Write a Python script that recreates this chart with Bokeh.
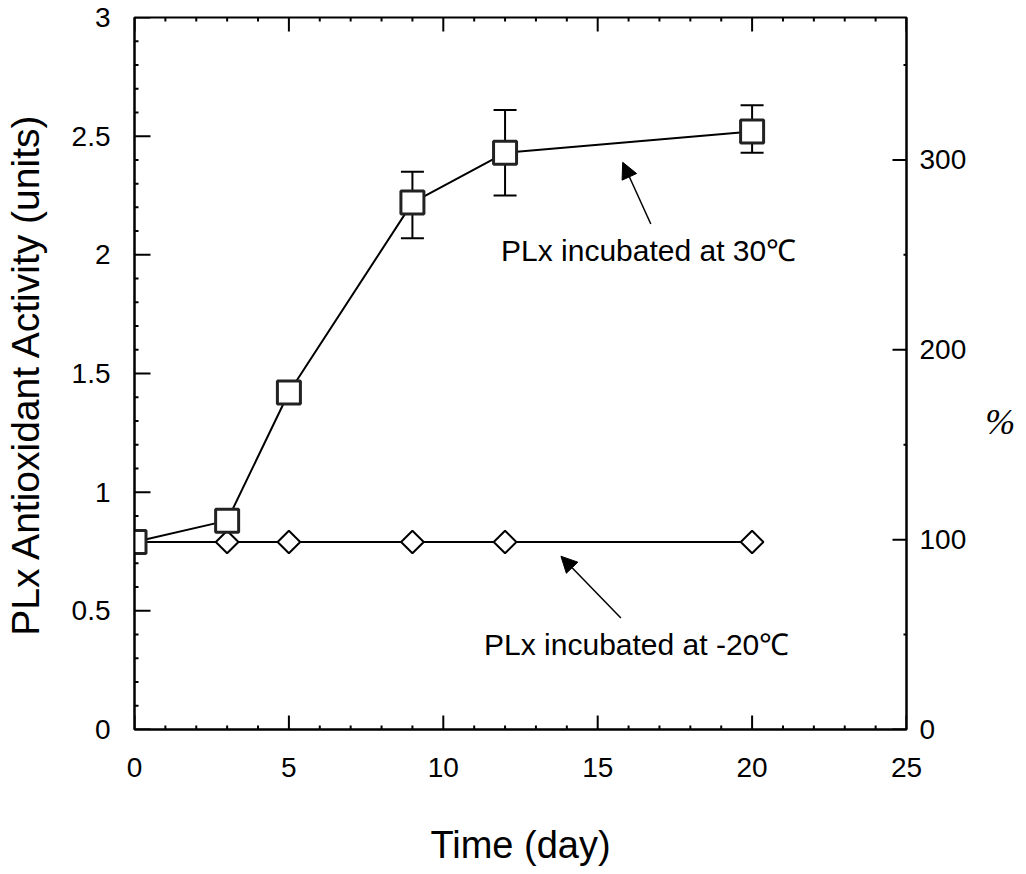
import numpy as np
from bokeh.plotting import figure
from bokeh.models import (LinearAxis, Range1d, FixedTicker, ColumnDataSource, Whisker,
                          TeeHead, Arrow, NormalHead, Label)
from bokeh.embed import file_html
from bokeh.resources import INLINE

# ---------------- data ----------------
days = [0, 3, 5, 9, 12, 20]
activity_30c = [0.79, 0.88, 1.42, 2.22, 2.43, 2.52]
activity_m20c = [0.79, 0.79, 0.79, 0.79, 0.79, 0.79]
err_days = [9, 12, 20]
err_low = [2.07, 2.25, 2.43]
err_high = [2.35, 2.61, 2.63]

x_ticks = [0, 5, 10, 15, 20, 25]
x_minor = [1, 2, 3, 4, 6, 7, 8, 9, 11, 12, 13, 14, 16, 17, 18, 19, 21, 22, 23, 24]
y_ticks = [0, 0.5, 1, 1.5, 2, 2.5, 3]
y_tick_labels = ["0", "0.5", "1", "1.5", "2", "2.5", "3"]
y_minor = [0.1, 0.2, 0.3, 0.4, 0.6, 0.7, 0.8, 0.9, 1.1, 1.2, 1.3, 1.4, 1.6, 1.7, 1.8, 1.9,
           2.1, 2.2, 2.3, 2.4, 2.6, 2.7, 2.8, 2.9]
pct_ticks = [0, 100, 200, 300]
pct_minor = [50, 150, 250, 350]

label_30 = "PLx incubated at 30\u2103"
label_m20 = "PLx incubated at -20\u2103"
label_30_pos = (11.87, 2.02)
label_m20_pos = (11.32, 0.36)
arrow_30 = (16.72, 2.13, 15.81, 2.39)
arrow_m20 = (15.75, 0.47, 13.81, 0.73)

X0, X1, Y0, Y1 = 0, 25, 0, 3
FONT = "Liberation Sans"

p = figure(width=1022, height=868, x_range=Range1d(X0, X1), y_range=Range1d(Y0, Y1),
           output_backend="svg", toolbar_location=None,
           min_border_left=133, min_border_right=116, min_border_top=17, min_border_bottom=130)
p.grid.visible = False
p.outline_line_color = "black"
p.outline_line_width = 2
p.background_fill_color = "white"
p.border_fill_color = "white"

p.extra_y_ranges = {"pct": Range1d(0, 375)}


def style_axis(ax):
    ax.axis_line_width = 2
    ax.axis_line_color = "black"
    ax.major_tick_line_color = None
    ax.minor_tick_line_color = None
    ax.major_tick_in = 0
    ax.major_tick_out = 0
    ax.minor_tick_in = 0
    ax.minor_tick_out = 0
    ax.major_label_text_font = FONT
    ax.major_label_text_font_size = "28px"
    ax.major_label_text_color = "black"
    ax.axis_label_text_font = FONT
    ax.axis_label_text_font_style = "normal"
    ax.axis_label_text_color = "black"


xa = p.xaxis[0]
xa.ticker = FixedTicker(ticks=x_ticks)
style_axis(xa)
xa.axis_label = "Time (day)"
xa.axis_label_text_font_size = "38px"
xa.major_label_standoff = 28
xa.axis_label_standoff = 44

ya = p.yaxis[0]
ya.ticker = FixedTicker(ticks=y_ticks)
style_axis(ya)
ya.major_label_overrides = {t: s for t, s in zip(y_ticks, y_tick_labels)}
ya.axis_label = "PLx Antioxidant Activity (units)"
ya.axis_label_text_font_size = "39px"
ya.major_label_standoff = 24
ya.axis_label_standoff = 22

right = LinearAxis(y_range_name="pct", ticker=FixedTicker(ticks=pct_ticks))
style_axis(right)
right.major_label_standoff = 13
right.axis_label = "\n\n%"
right.axis_label_orientation = "horizontal"
right.axis_label_text_font = "Liberation Serif"
right.axis_label_text_font_style = "italic"
right.axis_label_text_font_size = "36px"
right.axis_label_standoff = 16
p.add_layout(right, "right")

# tick marks drawn inside the frame (half of each dash is clipped by the frame)
def ticks(xs, ys, vertical, size, y_range_name="default"):
    p.scatter(xs, ys, marker="dash", angle=(np.pi / 2 if vertical else 0), size=size,
              line_color="black", line_width=2, y_range_name=y_range_name)

ticks(x_ticks, [Y0] * len(x_ticks), True, 28)
ticks(x_ticks, [Y1] * len(x_ticks), True, 28)
ticks(x_minor, [Y0] * len(x_minor), True, 8)
ticks(x_minor, [Y1] * len(x_minor), True, 8)
ticks([X0] * len(y_ticks), y_ticks, False, 32)
ticks([X0] * len(y_minor), y_minor, False, 8)
ticks([X1] * len(pct_ticks), pct_ticks, False, 28, "pct")
ticks([X1] * len(pct_minor), pct_minor, False, 6, "pct")

# error bars
esrc = ColumnDataSource(dict(x=err_days, lower=err_low, upper=err_high))
wh = Whisker(base="x", lower="lower", upper="upper", source=esrc, line_width=2, line_color="black",
             upper_head=TeeHead(size=23, line_width=2, line_color="black"),
             lower_head=TeeHead(size=23, line_width=2, line_color="black"))
p.add_layout(wh)

# -20 C series
p.line(days, activity_m20c, line_color="black", line_width=2)
p.scatter(days, activity_m20c, marker="square", angle=np.pi / 4, size=16,
          fill_color="white", line_color="black", line_width=2)

# 30 C series
p.line(days, activity_30c, line_color="black", line_width=2)
p.scatter(days, activity_30c, marker="square", size=23,
          fill_color="white", line_color="#222222", line_width=3)

# annotations
for (x0, y0, x1, y1) in (arrow_30, arrow_m20):
    p.add_layout(Arrow(x_start=x0, y_start=y0, x_end=x1, y_end=y1, line_width=1.5, line_color="black",
                       end=NormalHead(size=16, fill_color="black", line_color="black")))

for txt, (lx, ly) in ((label_30, label_30_pos), (label_m20, label_m20_pos)):
    p.add_layout(Label(x=lx, y=ly, text=txt, text_font=FONT, text_font_size="30px",
                       text_baseline="middle", text_color="black"))

open("out.html", "w").write(file_html(p, INLINE))
